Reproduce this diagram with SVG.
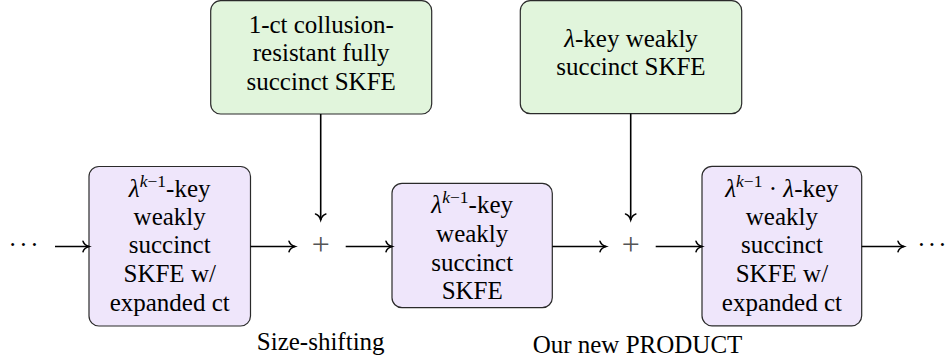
<svg xmlns="http://www.w3.org/2000/svg" width="945" height="362" viewBox="0 0 945 362">
<style>
  text { font-family: "Liberation Serif", "Times New Roman", serif; font-size: 25px; fill: #000; }
  .c { text-anchor: middle; }
  .sup { font-size: 17.5px; }
  .it { font-style: italic; }
  .pbox { fill: #EFE6FB; stroke: #2a2a2a; stroke-width: 1.2; }
  .gbox { fill: #E1F5DC; stroke: #2a2a2a; stroke-width: 1.2; }
  .plus { font-size: 32px; fill: #555; text-anchor: middle; }
  .dots { text-anchor: middle; }
  .conn path { fill: none; stroke: #000; stroke-width: 1.6; marker-end: url(#arr); }
</style>
<defs>
  <marker id="arr" markerUnits="userSpaceOnUse" markerWidth="14" markerHeight="14" viewBox="-8 -7 10 14" refX="0" refY="0" orient="auto">
    <path d="M-6,-5.2 C-5,-2 -2.2,-0.6 0,0 C-2.2,0.6 -5,2 -6,5.2" fill="none" stroke="#000" stroke-width="1.5" stroke-linecap="round"/>
  </marker>
</defs>

<g id="dots-left"><text class="dots" x="12.7 23.5 34.3" y="252.5">···</text></g>
<g id="dots-right"><text class="dots" x="921.5 932 942.3" y="252.5">···</text></g>

<g id="box1">
  <rect class="pbox" x="89" y="166.5" width="161.5" height="159.5" rx="10"/>
  <text class="c" x="169.7" y="196.7"><tspan class="it">λ</tspan><tspan class="sup it" dy="-10">k</tspan><tspan class="sup">−1</tspan><tspan dy="10">-key</tspan></text>
  <text class="c" x="169.7" y="224.5">weakly</text>
  <text class="c" x="169.7" y="253.3">succinct</text>
  <text class="c" x="169.7" y="281.7">SKFE w/</text>
  <text class="c" x="169.7" y="310.7">expanded ct</text>
</g>

<g id="green1">
  <rect class="gbox" x="210.7" y="0.7" width="221" height="113.3" rx="10"/>
  <text class="c" x="321.2" y="32.5">1-ct collusion-</text>
  <text class="c" x="321.2" y="61">resistant fully</text>
  <text class="c" x="321.2" y="89.5">succinct SKFE</text>
</g>

<g id="plus1"><text class="plus" x="320.7" y="254.7">+</text></g>

<g id="box2">
  <rect class="pbox" x="392" y="183.3" width="160.3" height="124.4" rx="10"/>
  <text class="c" x="472.2" y="213.3"><tspan class="it">λ</tspan><tspan class="sup it" dy="-10">k</tspan><tspan class="sup">−1</tspan><tspan dy="10">-key</tspan></text>
  <text class="c" x="472.2" y="241.7">weakly</text>
  <text class="c" x="472.2" y="270.5">succinct</text>
  <text class="c" x="472.2" y="299">SKFE</text>
</g>

<g id="green2">
  <rect class="gbox" x="520.3" y="0.7" width="221.4" height="113" rx="10"/>
  <text class="c" x="631" y="46.8"><tspan class="it">λ</tspan>-key weakly</text>
  <text class="c" x="631" y="75.3">succinct SKFE</text>
</g>

<g id="plus2"><text class="plus" x="630.7" y="254.7">+</text></g>

<g id="box3">
  <rect class="pbox" x="702" y="166.3" width="159.7" height="159.5" rx="10"/>
  <text class="c" x="781.9" y="196.7"><tspan class="it">λ</tspan><tspan class="sup it" dy="-10">k</tspan><tspan class="sup">−1</tspan><tspan dy="10"> · </tspan><tspan class="it">λ</tspan>-key</text>
  <text class="c" x="781.9" y="224.5">weakly</text>
  <text class="c" x="781.9" y="253.3">succinct</text>
  <text class="c" x="781.9" y="281.7">SKFE w/</text>
  <text class="c" x="781.9" y="310.7">expanded ct</text>
</g>

<g id="label-size-shifting"><text class="c" x="320.7" y="349.5">Size-shifting</text></g>
<g id="label-product"><text class="c" x="637.5" y="352.5">Our new PRODUCT</text></g>

<g id="connectors" class="conn">
  <path d="M55,246.5 H89"/>
  <path d="M250.5,246.5 H295"/>
  <path d="M320.7,114 V220"/>
  <path d="M345.7,246.5 H392"/>
  <path d="M552.3,246.5 H606"/>
  <path d="M630.7,113.7 V220"/>
  <path d="M655.7,246.5 H702"/>
  <path d="M861.7,246.5 H904"/>
</g>
</svg>
